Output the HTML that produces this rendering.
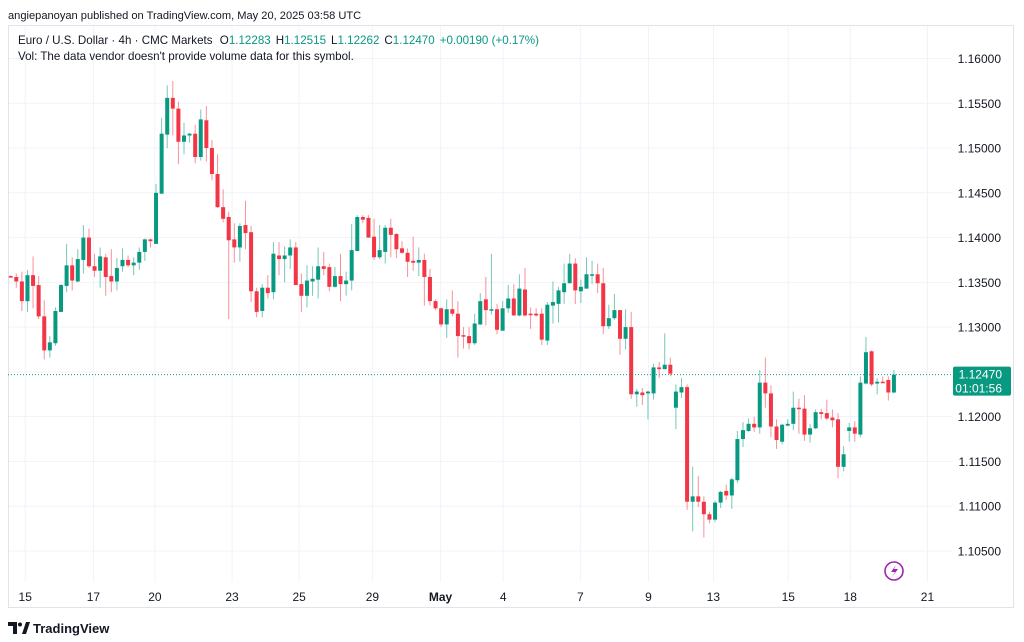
<!DOCTYPE html>
<html><head><meta charset="utf-8"><style>
html,body{margin:0;padding:0;background:#fff;}
svg{display:block;font-family:"Liberation Sans",sans-serif;}
</style></head><body>
<svg id="chart" width="1024" height="642" viewBox="0 0 1024 642">
<text x="8" y="19" font-size="11.1" fill="#131722">angiepanoyan published on TradingView.com, May 20, 2025 03:58 UTC</text>
<rect x="8.5" y="25.5" width="1005" height="582" fill="none" stroke="#e0e3eb"/>
<g id="grid"></g>
<g id="candles"></g>
<line id="lastline" x1="8" x2="952" stroke="#089981" stroke-dasharray="1,2"/>
<g id="yaxis"></g>
<g id="xaxis"></g>
<text x="18" y="44" font-size="11.6" fill="#131722">Euro / U.S. Dollar · 4h · CMC Markets <tspan dx="4">O</tspan><tspan fill="#089981">1.12283</tspan><tspan dx="5">H</tspan><tspan fill="#089981">1.12515</tspan><tspan dx="5">L</tspan><tspan fill="#089981">1.12262</tspan><tspan dx="5">C</tspan><tspan fill="#089981">1.12470</tspan><tspan dx="5" fill="#089981">+0.00190 (+0.17%)</tspan></text>
<text x="18" y="60" font-size="11.6" fill="#131722">Vol: The data vendor doesn't provide volume data for this symbol.</text>
<g><circle cx="894" cy="571" r="9" fill="none" stroke="#9c27b0" stroke-width="1.6"/><path d="M896 565 L891 572 L895 572 L892 577 L898 569 L894 569 Z" fill="#9c27b0"/></g>
<g><path d="M8 622 h9 v12 h-4 v-8 h-5 z" fill="#131722"/><circle cx="20" cy="624.5" r="2" fill="#131722"/><path d="M22 634 l4 -12 h4 l-4 12 z" fill="#131722"/><text x="33" y="633" font-size="13" font-weight="bold" fill="#131722">TradingView</text></g>
</svg>
<script>
const opens=[1.1357,1.1356,1.1351,1.1329,1.1358,1.1347,1.1312,1.1274,1.1282,1.1317,1.1346,1.1369,1.1351,1.1375,1.1400,1.1368,1.1363,1.1378,1.1357,1.1351,1.1368,1.1375,1.1369,1.1372,1.1384,1.1398,1.1393,1.1449,1.1515,1.1556,1.1544,1.1507,1.1514,1.1516,1.1490,1.1531,1.1500,1.1471,1.1434,1.1423,1.1398,1.1389,1.1414,1.1406,1.1340,1.1318,1.1344,1.1339,1.1380,1.1376,1.1380,1.1389,1.1348,1.1335,1.1351,1.1353,1.1368,1.1367,1.1345,1.1357,1.1348,1.1352,1.1385,1.1423,1.1422,1.1401,1.1378,1.1384,1.1411,1.1404,1.1388,1.1383,1.1374,1.1372,1.1375,1.1356,1.1329,1.1321,1.1303,1.1320,1.1315,1.1291,1.1290,1.1282,1.1303,1.1331,1.1319,1.1320,1.1296,1.1321,1.1332,1.1313,1.1342,1.1315,1.1315,1.1315,1.1285,1.1324,1.1326,1.1339,1.1349,1.1371,1.1340,1.1343,1.1358,1.1359,1.1349,1.1301,1.1310,1.1319,1.1287,1.1300,1.1225,1.1227,1.1226,1.1226,1.1255,1.1253,1.1258,1.1210,1.1227,1.1233,1.1105,1.1111,1.1105,1.1091,1.1085,1.1104,1.1117,1.1112,1.1129,1.1175,1.1184,1.1192,1.1188,1.1238,1.1226,1.1189,1.1172,1.1190,1.1192,1.1210,1.1209,1.1180,1.1187,1.1205,1.1204,1.1199,1.1197,1.1144,1.1184,1.1188,1.1180,1.1237,1.1273,1.1237,1.1239,1.1241,1.1227];
const highs=[1.1358,1.1360,1.1362,1.1364,1.1379,1.1357,1.1330,1.1290,1.1322,1.1348,1.1393,1.1378,1.1387,1.1414,1.1410,1.1382,1.1389,1.1382,1.1387,1.1377,1.1388,1.1380,1.1378,1.1389,1.1399,1.1399,1.1460,1.1534,1.1570,1.1575,1.1552,1.1528,1.1517,1.1526,1.1543,1.1547,1.1509,1.1493,1.1454,1.1429,1.1416,1.1416,1.1441,1.1413,1.1344,1.1348,1.1358,1.1395,1.1395,1.1390,1.1398,1.1395,1.1360,1.1369,1.1368,1.1389,1.1384,1.1371,1.1367,1.1382,1.1362,1.1415,1.1425,1.1425,1.1425,1.1421,1.1414,1.1414,1.1421,1.1405,1.1396,1.1388,1.1401,1.1389,1.1382,1.1365,1.1331,1.1322,1.1331,1.1341,1.1329,1.1300,1.1300,1.1315,1.1338,1.1356,1.1382,1.1326,1.1329,1.1347,1.1348,1.1359,1.1366,1.1322,1.1321,1.1321,1.1328,1.1351,1.1345,1.1371,1.1382,1.1377,1.1353,1.1378,1.1374,1.1371,1.1366,1.1325,1.1337,1.1319,1.1320,1.1317,1.1231,1.1232,1.1229,1.1259,1.1261,1.1293,1.1266,1.1236,1.1243,1.1236,1.1144,1.1134,1.1111,1.1094,1.1106,1.1117,1.1124,1.1132,1.1184,1.1194,1.1198,1.1200,1.1252,1.1266,1.1235,1.1197,1.1192,1.1197,1.1228,1.1220,1.1224,1.1192,1.1208,1.1209,1.1219,1.1208,1.1204,1.1167,1.1193,1.1195,1.1245,1.1289,1.1274,1.1243,1.1245,1.1245,1.1252];
const lows=[1.1355,1.1344,1.1318,1.1317,1.1321,1.1309,1.1264,1.1266,1.1279,1.1317,1.1339,1.1341,1.1350,1.1360,1.1366,1.1356,1.1344,1.1335,1.1339,1.1341,1.1362,1.1367,1.1358,1.1364,1.1374,1.1389,1.1393,1.1449,1.1500,1.1514,1.1482,1.1493,1.1506,1.1483,1.1486,1.1485,1.1464,1.1433,1.1417,1.1309,1.1372,1.1373,1.1387,1.1328,1.1311,1.1311,1.1332,1.1331,1.1358,1.1350,1.1365,1.1347,1.1317,1.1322,1.1335,1.1332,1.1358,1.1340,1.1344,1.1329,1.1335,1.1341,1.1385,1.1416,1.1400,1.1375,1.1376,1.1371,1.1378,1.1377,1.1382,1.1356,1.1363,1.1357,1.1324,1.1324,1.1319,1.1300,1.1288,1.1312,1.1266,1.1276,1.1275,1.1280,1.1302,1.1302,1.1314,1.1292,1.1296,1.1316,1.1313,1.1312,1.1312,1.1298,1.1312,1.1280,1.1280,1.1304,1.1305,1.1326,1.1349,1.1326,1.1327,1.1343,1.1348,1.1338,1.1292,1.1298,1.1308,1.1269,1.1275,1.1220,1.1211,1.1213,1.1197,1.1219,1.1243,1.1253,1.1245,1.1186,1.1221,1.1096,1.1072,1.1099,1.1065,1.1081,1.1082,1.1098,1.1107,1.1097,1.1126,1.1166,1.1183,1.1183,1.1181,1.1210,1.1177,1.1164,1.1169,1.1189,1.1185,1.1181,1.1173,1.1171,1.1186,1.1197,1.1196,1.1188,1.1131,1.1139,1.1172,1.1172,1.1177,1.1236,1.1234,1.1225,1.1238,1.1218,1.1226];
const closes=[1.1356,1.1351,1.1329,1.1358,1.1346,1.1312,1.1274,1.1283,1.1318,1.1347,1.1369,1.1352,1.1376,1.1400,1.1368,1.1363,1.1379,1.1356,1.1351,1.1366,1.1375,1.1369,1.1372,1.1384,1.1398,1.1396,1.1450,1.1516,1.1556,1.1544,1.1507,1.1514,1.1516,1.1490,1.1532,1.1500,1.1471,1.1434,1.1421,1.1397,1.1389,1.1413,1.1405,1.1340,1.1317,1.1344,1.1338,1.1382,1.1376,1.1380,1.1389,1.1347,1.1335,1.1352,1.1354,1.1368,1.1365,1.1345,1.1357,1.1348,1.1352,1.1386,1.1423,1.1420,1.1400,1.1378,1.1386,1.1411,1.1403,1.1387,1.1383,1.1373,1.1372,1.1375,1.1356,1.1329,1.1321,1.1303,1.1320,1.1315,1.1290,1.1290,1.1282,1.1304,1.1329,1.1319,1.1320,1.1297,1.1321,1.1332,1.1313,1.1343,1.1313,1.1314,1.1313,1.1286,1.1325,1.1328,1.1341,1.1349,1.1371,1.1341,1.1345,1.1359,1.1359,1.1349,1.1301,1.1310,1.1319,1.1287,1.1300,1.1225,1.1228,1.1224,1.1228,1.1255,1.1253,1.1258,1.1248,1.1228,1.1233,1.1105,1.1111,1.1105,1.1091,1.1085,1.1104,1.1116,1.1112,1.1130,1.1175,1.1185,1.1192,1.1188,1.1238,1.1226,1.1189,1.1174,1.1191,1.1192,1.1210,1.1209,1.1180,1.1187,1.1205,1.1203,1.1198,1.1196,1.1144,1.1158,1.1188,1.1181,1.1238,1.1272,1.1236,1.1239,1.1238,1.1227,1.1247];
const priceTicks=[1.16,1.155,1.15,1.145,1.14,1.135,1.13,1.125,1.12,1.115,1.11,1.105];
const dateLabels=["15","17","20","23","25","29","May","4","7","9","13","15","18","21"];
const dateIndex=[2.6,14.8,25.8,39.6,51.6,64.7,76.9,88.1,101.9,114.1,125.7,139.1,150.2,164];
const lastPrice=1.12470;

const NS="http://www.w3.org/2000/svg";
const y=p=>58.5+(1.16-p)/0.005*44.77;
const x=i=>10.7+i*5.59;
function mk(tag,attrs,parent){const e=document.createElementNS(NS,tag);for(const k in attrs)e.setAttribute(k,attrs[k]);parent.appendChild(e);return e;}
const grid=document.getElementById('grid'),cg=document.getElementById('candles'),ya=document.getElementById('yaxis'),xa=document.getElementById('xaxis');
priceTicks.forEach(p=>{
  const l=mk('line',{x1:9,x2:952,y1:y(p),y2:y(p),stroke:'#f0f3fa'},grid);
  
  
  if(Math.abs(p-1.125)<1e-9)return;
  const t=mk('text',{x:1001,y:y(p)+4.5,'text-anchor':'end','font-size':'12',fill:'#131722'},ya);
  t.textContent=p.toFixed(5);
  
  
});
dateLabels.forEach((d,k)=>{
  const xx=x(dateIndex[k]);
  const l=mk('line',{x1:xx,x2:xx,y1:26,y2:582,stroke:'#f0f3fa'},grid);
  
  
  const t=mk('text',{x:xx,y:601,'text-anchor':'middle','font-size':'12',fill:'#131722','font-weight':d==='May'?'bold':'normal'},xa);
  t.textContent=d;
  
  
});
opens.forEach((o,i)=>{
  const c=closes[i],up=c>=o,col=up?'#089981':'#f23645',cx=x(i);
  const g=mk('g',{},cg);
  
  
  mk('line',{x1:cx,x2:cx,y1:y(highs[i]),y2:y(lows[i]),stroke:col,'stroke-opacity':'0.55','stroke-width':1},g);
  const top=y(Math.max(o,c)),h=Math.max(1.5,Math.abs(y(o)-y(c)));
  mk('rect',{x:cx-2,y:top,width:4,height:h,fill:col},g);
});
const ly=y(lastPrice);
const ll=document.getElementById('lastline');ll.setAttribute('y1',ly);ll.setAttribute('y2',ly);
const box=mk('rect',{x:953,y:ly-8,width:58,height:29,rx:2,fill:'#089981'},ya);


const t1=mk('text',{x:1002,y:ly+4,'text-anchor':'end','font-size':'12',fill:'#fff'},ya);t1.textContent=lastPrice.toFixed(5);


const t2=mk('text',{x:1002,y:ly+18,'text-anchor':'end','font-size':'12',fill:'#fff'},ya);t2.textContent='01:01:56';


</script>
</body></html>
